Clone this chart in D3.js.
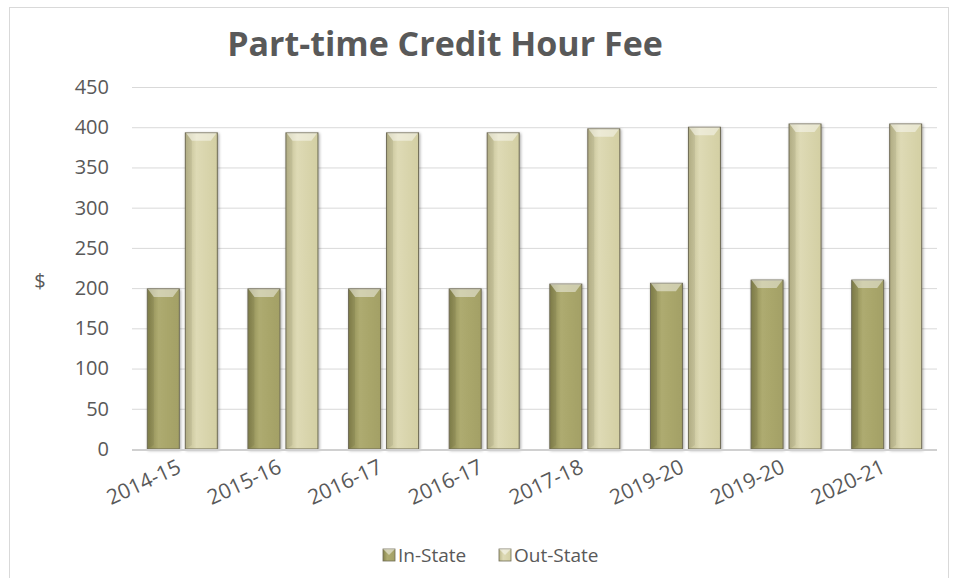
<!DOCTYPE html>
<html lang="en">
<head>
<meta charset="utf-8">
<title>Part-time Credit Hour Fee</title>
<script src="https://d3js.org/d3.v7.min.js"></script>
<style>
  body { margin: 0; background: #fff; }
  text { font-family: "Open Sans", "Liberation Sans", sans-serif; fill: #595959; }
</style>
</head>
<body>
<svg width="957" height="578"></svg>
<script>

// chart values
var years = ["2014-15", "2015-16", "2016-17", "2016-17", "2017-18", "2019-20", "2019-20", "2020-21"];
var inState = [199, 199, 199, 199, 205, 206, 210, 210];
var outState = [393, 393, 393, 393, 398, 400, 404, 404];
var yTicks = [0, 50, 100, 150, 200, 250, 300, 350, 400, 450];
var seriesNames = ["In-State", "Out-State"];

var svg = d3.select("svg");

var x = d3.scaleBand()
    .domain(d3.range(years.length))
    .range([132, 937]);

var y = d3.scaleLinear()
    .domain([0, 450])
    .range([449, 87]);

// gradients for bars
var defs = svg.append("defs");
var colors = [
  {id: "gIn", dark: "#85834c", mid: "#aeab70", light: "#a3a065"},
  {id: "gOut", dark: "#bcb88b", mid: "#dedab5", light: "#d3cfa3"}
];
colors.forEach(function(c) {
  var g = defs.append("linearGradient").attr("id", c.id)
      .attr("x1", "0").attr("x2", "1").attr("y1", "0").attr("y2", "0");
  g.append("stop").attr("offset", "0%").attr("stop-color", c.dark);
  g.append("stop").attr("offset", "35%").attr("stop-color", c.mid);
  g.append("stop").attr("offset", "100%").attr("stop-color", c.light);
});
var f = defs.append("filter").attr("id", "shadow")
    .attr("x", "-30%").attr("y", "-10%").attr("width", "160%").attr("height", "130%");
f.append("feDropShadow").attr("dx", 1).attr("dy", 1).attr("stdDeviation", 1.6)
    .attr("flood-color", "#000").attr("flood-opacity", 0.35);

// outer border
svg.append("rect")
    .attr("x", 9.5).attr("y", 7.5).attr("width", 939).attr("height", 580)
    .attr("fill", "none").attr("stroke", "#d9d9d9");

// title
svg.append("text")
    .attr("x", 445).attr("y", 56)
    .attr("text-anchor", "middle")
    .style("font-size", "34px").style("font-weight", "bold")
    .text("Part-time Credit Hour Fee");

// gridlines
svg.append("g").selectAll("line")
    .data(yTicks.slice(1))
    .enter().append("line")
    .attr("x1", 132).attr("x2", 937)
    .attr("y1", function(d) { return y(d) + 0.5; })
    .attr("y2", function(d) { return y(d) + 0.5; })
    .attr("stroke", "#d9d9d9").attr("stroke-width", 1);

// y axis
var yAxis = svg.append("g")
    .attr("transform", "translate(109,0)")
    .call(d3.axisLeft(y).tickValues(yTicks).tickSize(0).tickPadding(0));
yAxis.select(".domain").remove();
yAxis.selectAll("text")
    .style("font-size", "20px")
    .style("font-family", "'Open Sans', sans-serif")
    .attr("fill", "#595959");

svg.append("text")
    .attr("x", 40).attr("y", 288)
    .attr("text-anchor", "middle")
    .style("font-size", "20px")
    .text("$");

// bars
var barW = 32, gap = 6;
var groups = svg.append("g").selectAll("g")
    .data(years)
    .enter().append("g")
    .attr("transform", function(d, i) { return "translate(" + x(i) + ",0)"; });

function drawBars(vals, offset, grad) {
  var bar = groups.append("g")
      .attr("filter", "url(#shadow)");
  bar.append("rect")
      .attr("x", offset)
      .attr("y", function(d, i) { return y(vals[i]); })
      .attr("width", barW)
      .attr("height", function(d, i) { return y(0) - y(vals[i]); })
      .attr("fill", "url(#" + grad + ")")
      .attr("stroke", "#6f6b55").attr("stroke-width", 1);
  // bevel on top
  bar.append("path")
      .attr("d", function(d, i) {
        var t = y(vals[i]), l = offset + 0.5, r = offset + barW - 0.5;
        return "M" + l + "," + t + "L" + r + "," + t + "L" + (r - 6) + "," + (t + 8) +
               "L" + (l + 6) + "," + (t + 8) + "Z";
      })
      .attr("fill", "#fff").attr("fill-opacity", 0.45);
  bar.append("path")
      .attr("d", function(d, i) {
        var t = y(vals[i]), l = offset + 0.5;
        return "M" + l + "," + t + "L" + (l + 6) + "," + (t + 8) + "L" + (l + 6) + "," + (y(0) - 4) +
               "L" + l + "," + y(0) + "Z";
      })
      .attr("fill", "#000").attr("fill-opacity", 0.06);
}
var inner = x.bandwidth();
var pad = (inner - (2 * barW + gap)) / 2;
drawBars(inState, pad, "gIn");
drawBars(outState, pad + barW + gap, "gOut");

// baseline
svg.append("line")
    .attr("x1", 132).attr("x2", 937)
    .attr("y1", y(0) + 1).attr("y2", y(0) + 1)
    .attr("stroke", "#d0d0d0").attr("stroke-width", 2);

// x labels
svg.append("g").selectAll("text")
    .data(years)
    .enter().append("text")
    .attr("transform", function(d, i) {
      return "translate(" + (x(i) + inner / 2) + "," + 472 + ") rotate(-25)";
    })
    .attr("text-anchor", "end")
    .style("font-size", "21px")
    .text(function(d) { return d; });

// legend
var legend = svg.append("g").attr("transform", "translate(383,549)");
var lx = [0, 116];
seriesNames.forEach(function(name, i) {
  var g = legend.append("g").attr("transform", "translate(" + lx[i] + ",0)");
  g.append("rect").attr("width", 12).attr("height", 12)
      .attr("fill", "url(#" + colors[i].id + ")")
      .attr("stroke", "#6f6b55").attr("stroke-width", 0.8);
  g.append("path").attr("d", "M0,0L12,0L6,6Z").attr("fill", "#fff").attr("fill-opacity", 0.5);
  g.append("text").attr("x", 15).attr("y", 13)
      .style("font-size", "19px")
      .text(name);
});
</script>
</body>
</html>
